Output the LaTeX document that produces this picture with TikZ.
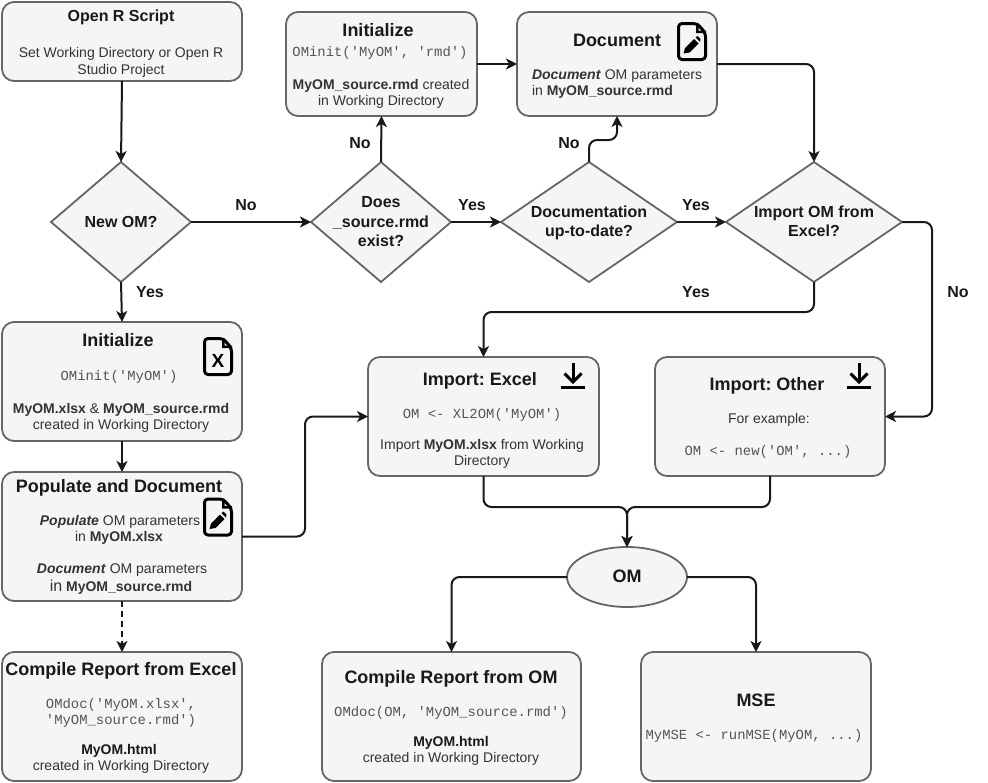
\documentclass[tikz,border=0pt]{standalone}
\usepackage{fontspec}
\setmainfont{Liberation Sans}
\setmonofont{Liberation Mono}
\usetikzlibrary{arrows.meta,shapes.geometric}
\definecolor{bfill}{HTML}{F5F5F5}
\definecolor{bline}{HTML}{666666}
\definecolor{btext}{HTML}{333333}
\definecolor{mtext}{HTML}{555555}
\newcounter{tn}
% text line: style, x, y (centre of the line), text
\newcommand{\tl}[4][]{\stepcounter{tn}\node[tline,#1] (t\arabic{tn}) at (#2,#3+5) {#4};}
\newcommand{\bx}[5]{\node[boxn,minimum width={(#4-#2)*1pt},minimum height={(#5-#3)*1pt}] (#1) at ({(#2+#4)/2},{(#3+#5)/2}) {};}
\newcommand{\dm}[3]{\node[diam] (#1) at (#2,#3) {};}
\tikzset{
  x=1pt,y=-1pt,
  boxn/.style={draw=bline,fill=bfill,line width=1.8pt,rounded corners=12pt,inner sep=0,outer sep=0},
  diam/.style={diamond,aspect=1.17,draw=bline,fill=bfill,line width=1.8pt,inner sep=0,outer sep=0,minimum width=140pt,minimum height=120pt},
  tline/.style={anchor=base,inner sep=0,outer sep=0,text=btext,font=\fontsize{14}{16}\selectfont},
  ttl/.style={yshift=-0.8pt,text=black!90,font=\fontsize{18}{20}\selectfont\bfseries},
  lbl/.style={yshift=-0.7pt,text=black!90,font=\fontsize{16}{18}\selectfont\bfseries},
  blb/.style={text=black!90,font=\fontsize{14}{16}\selectfont\bfseries},
  code/.style={text=mtext,font=\fontsize{13.9}{16}\ttfamily},
  conn/.style={draw=black!90,line width=2pt,rounded corners=8pt,-{Stealth[length=11pt,width=11pt,inset=3pt]}},
  filebody/.pic={
    \draw[black,line width=3pt,line join=round,rounded corners=3.5pt]
      (1.5,1.5) -- (20,1.5) -- (28.5,11) -- (28.5,37.5) -- (1.5,37.5) -- cycle;
    \fill[black] (19,1) -- (19,11) -- (29,11) -- (29,8.5) -- (21.5,8.5) -- (21.5,1) -- cycle;
  },
  xlicon/.pic={
    \pic {filebody};
    \node[inner sep=0,font=\fontsize{19}{20}\selectfont\bfseries] (xlmark) at (15,23.5) {X};
  },
  penicon/.pic={
    \pic {filebody};
    \fill[black] (6.5,31.5) -- (8,26) -- (17,17) -- (21.5,21.5) -- (12.5,30.5) -- cycle;
    \fill[black] (18.5,15.5) -- (20.5,14) -- (23.5,17) -- (23,20) -- cycle;
  },
  dlicon/.pic={
    \fill[black] (0,23) rectangle (24,26);
    \draw[black,line width=3pt] (12,0) -- (12,18);
    \draw[black,line width=3pt,line join=miter] (3.5,10.5) -- (12,19) -- (20.5,10.5);
  }
}
\begin{document}
\frenchspacing
\begin{tikzpicture}
\useasboundingbox (0,0) rectangle (988,782);
% boxes
\bx{open}{2}{2}{242}{81}
\bx{initr}{286}{12}{477}{116}
\bx{docu}{517}{12}{717}{116}
\bx{initx}{2}{322}{242}{441}
\bx{popu}{2}{472}{242}{601}
\bx{compx}{2}{652}{242}{781}
\bx{impx}{368}{357}{599}{476}
\bx{impo}{655}{357}{885}{476}
\bx{compo}{322}{652}{581}{781}
\bx{mse}{641}{652}{871}{781}
\dm{dnew}{121}{222}
\dm{dsrc}{381}{222}
\node[diam,minimum width=176pt] (dupd) at (589,222) {};
\node[diam,minimum width=176pt] (dimp) at (814,222) {};
\node[ellipse,draw=bline,fill=bfill,line width=1.8pt,minimum width=120pt,minimum height=60pt,inner sep=0,outer sep=0] (om) at (627,577) {};
% connectors
\draw[conn] (open.south) -- (dnew.north);
\draw[conn] (dnew.east) -- (dsrc.west);
\draw[conn] (dnew.south) -- (initx.north);
\draw[conn] (dsrc.north) -- (initr.south);
\draw[conn] (initr.east) -- (docu.west);
\draw[conn] (dsrc.east) -- (dupd.west);
\draw[conn] (dupd.north) -- ++(0,-22) -- ++(28,0) -- (docu.south);
\draw[conn] (dupd.east) -- (dimp.west);
\draw[conn] (docu.east) -| (dimp.north);
\draw[conn] (dimp.south) -- ++(0,30) -| (impx.north);
\draw[conn] (dimp.east) -- ++(30,0) |- (impo.east);
\draw[conn] (initx.south) -- (popu.north);
\draw[conn] (popu.east) -- ++(63,0) |- (impx.west);
\draw[conn,dashed,dash pattern=on 6pt off 4pt] (popu.south) -- (compx.north);
\draw[conn] (impx.south) -- ++(0,31) -| (om.north);
\draw[conn] (impo.south) -- ++(0,31) -| (om.north);
\draw[conn] (om.west) -| (compo.north);
\draw[conn] (om.east) -| (mse.north);
% connector labels
\tl[lbl]{246}{205}{No}
\tl[lbl]{150}{292}{Yes}
\tl[lbl]{360}{143}{No}
\tl[lbl]{472}{205}{Yes}
\tl[lbl]{569}{143}{No}
\tl[lbl]{696}{205}{Yes}
\tl[lbl]{696}{292}{Yes}
\tl[lbl]{958}{292}{No}
% Open R Script
\tl[lbl]{121}{16}{Open R Script}
\tl{121}{52}{Set Working Directory or Open R}
\tl{121}{69}{Studio Project}
% Initialize rmd
\tl[ttl]{378}{31}{Initialize}
\tl[code]{380}{51}{OMinit('MyOM', 'rmd')}
\tl{381}{84}{\textbf{MyOM\_source.rmd} created}
\tl{381}{100}{in Working Directory}
% Document
\tl[ttl]{617}{41}{Document}
\tl[anchor=base west]{532}{74}{\textbf{\textit{Document}} OM parameters}
\tl[anchor=base west]{532}{90}{in \textbf{MyOM\_source.rmd}}
% diamonds
\tl[lbl]{121}{222}{New OM?}
\tl[lbl]{381}{202}{Does}
\tl[lbl]{381}{222}{\_source.rmd}
\tl[lbl]{381}{241}{exist?}
\tl[lbl]{589}{212}{Documentation}
\tl[lbl]{589}{231}{up-to-date?}
\tl[lbl]{814}{212}{Import OM from}
\tl[lbl]{814}{231}{Excel?}
% Initialize xlsx
\tl[ttl]{118}{341}{Initialize}
\tl[code]{119}{375}{OMinit('MyOM')}
\tl{121}{408}{\textbf{MyOM.xlsx} \& \textbf{MyOM\_source.rmd}}
\tl{121}{424}{created in Working Directory}
% Populate
\tl[ttl]{119}{487}{Populate and Document}
\tl{120}{520}{\textbf{\textit{Populate}} OM parameters}
\tl{119}{536}{in \textbf{MyOM.xlsx}}
\tl{122}{568}{\textbf{\textit{Document}} OM parameters}
\tl{121}{586}{{\fontsize{16}{18}\selectfont in} \textbf{MyOM\_source.rmd}}
% Compile Excel
\tl[ttl]{121}{670}{Compile Report from Excel}
\tl[code]{121}{703}{OMdoc('MyOM.xlsx',}
\tl[code]{121}{719}{'MyOM\_source.rmd')}
\tl[blb]{119}{749}{MyOM.html}
\tl{121}{765}{created in Working Directory}
% Import Excel
\tl[ttl]{480}{380}{Import: Excel}
\tl[code]{482}{413}{OM <- XL2OM('MyOM')}
\tl{482}{444}{Import \textbf{MyOM.xlsx} from Working}
\tl{482}{460}{Directory}
% Import Other
\tl[ttl]{767}{385}{Import: Other}
\tl{769}{418}{For example:}
\tl[code]{768}{450}{OM <- new('OM', ...)}
% OM
\tl[ttl]{627}{577}{OM}
% Compile OM
\tl[ttl]{451}{678}{Compile Report from OM}
\tl[code]{451}{711}{OMdoc(OM, 'MyOM\_source.rmd')}
\tl[blb]{451}{741}{MyOM.html}
\tl{451}{757}{created in Working Directory}
% MSE
\tl[ttl]{756}{701}{MSE}
\tl[code]{754}{734}{MyMSE <- runMSE(MyOM, ...)}
% icons
\pic at (203,337) {xlicon};
\pic at (203,497.5) {penicon};
\pic at (677,22) {penicon};
\pic at (561,363) {dlicon};
\pic at (847,363) {dlicon};
\end{tikzpicture}
\end{document}
